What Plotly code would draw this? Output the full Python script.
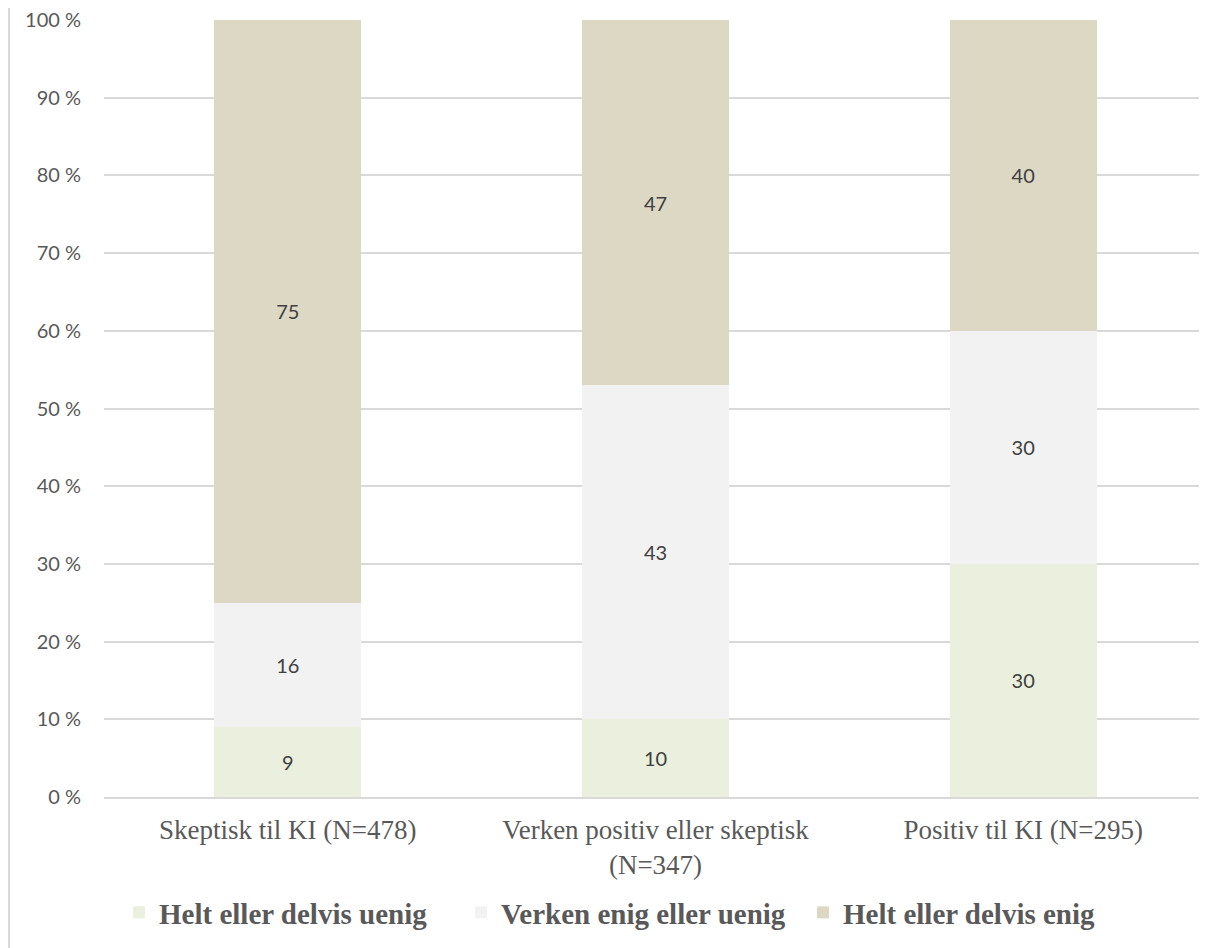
import plotly.graph_objects as go

categories = ["Skeptisk til KI (N=478)", "Verken positiv eller skeptisk<br>(N=347)", "Positiv til KI (N=295)"]
uenig = [9, 10, 30]
verken = [16, 43, 30]
enig = [75, 47, 40]
series_names = ["Helt eller delvis uenig", "Verken enig eller uenig", "Helt eller delvis enig"]
series_colors = ["#EBEFDE", "#F2F2F2", "#DDD8C4"]
y_ticks = list(range(0, 101, 10))

# page body has an 8px margin, so the figure is offset by 8px
W, H = 1199, 940
ml, mr, mt, mb = 96, 0, 12, 151
PW, PH = W - ml - mr, H - mt - mb

fig = go.Figure()
for name, vals, col in zip(series_names, [uenig, verken, enig], series_colors):
    fig.add_trace(go.Bar(
        x=categories, y=vals, name=name,
        marker=dict(color=col, line=dict(width=0)),
        text=[str(v) for v in vals], textposition="inside", insidetextanchor="middle",
        textfont=dict(family="Lato, Carlito, sans-serif", size=20, color="#404040"),
        constraintext="none",
    ))

fig.update_layout(
    width=W, height=H,
    barmode="stack", bargap=0.6,
    margin=dict(l=ml, r=mr, t=mt, b=mb, autoexpand=False),
    paper_bgcolor="white", plot_bgcolor="white",
    showlegend=True,
    legend=dict(
        orientation="h", x=(111 - ml) / PW, xanchor="left",
        y=-90 / PH, yanchor="top",
        font=dict(family="Liberation Serif, Times New Roman, serif", size=29, color="#595959",
                  weight="bold"),
        entrywidth=297, entrywidthmode="pixels",
        traceorder="normal", itemclick=False,
    ),
    font=dict(family="Lato, sans-serif", color="#595959"),
)

fig.update_yaxes(
    range=[0, 100], tickvals=y_ticks, ticktext=[f"{v} %" for v in y_ticks],
    showgrid=True, gridcolor="#D9D9D9", gridwidth=1.5,
    zeroline=False, showline=False,
    tickfont=dict(family="Lato, Carlito, sans-serif", size=20, color="#595959"),
    ticklabelstandoff=22, ticklabeloverflow="allow",
)
fig.update_xaxes(
    showline=True, linecolor="#D9D9D9", linewidth=1.5,
    tickfont=dict(family="Liberation Serif, Times New Roman, serif", size=27, color="#595959"),
    ticks="", ticklabelstandoff=8,
)

# outer chart border (left edge visible)
bx = (1 - ml) / PW
fig.add_shape(type="line", xref="paper", yref="paper",
              x0=bx, x1=bx, y0=-mb / PH, y1=1 + mt / PH,
              line=dict(color="#D9D9D9", width=2))

fig.write_html("out.html")
